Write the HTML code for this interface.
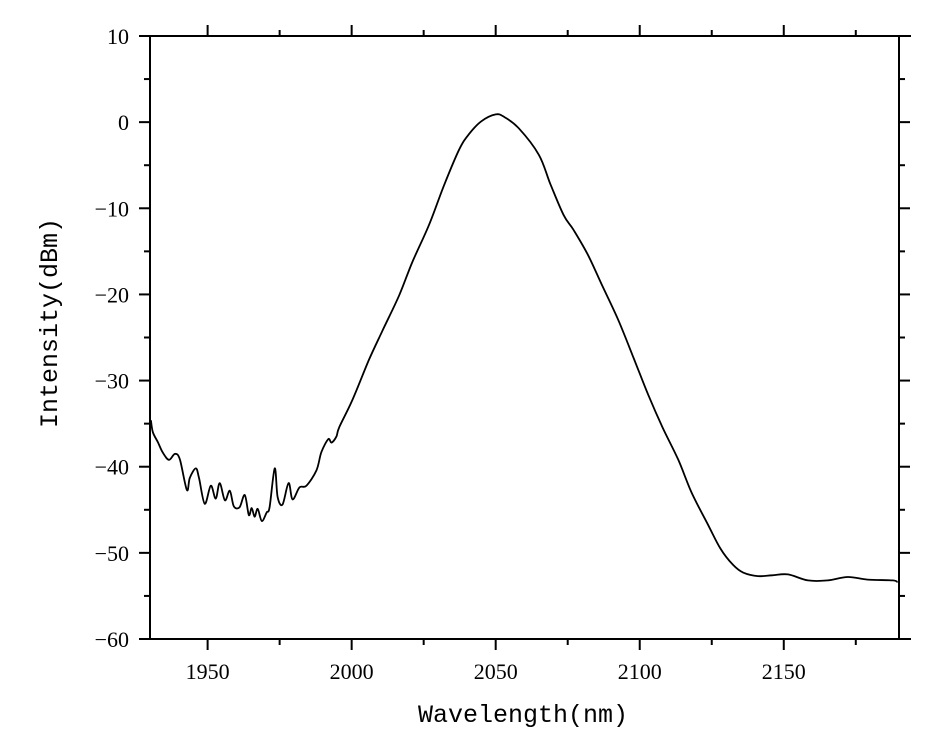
<!DOCTYPE html>
<html><head><meta charset="utf-8"><style>
html,body{margin:0;padding:0;background:#fff;}
svg{display:block;}
.t{font-family:"Liberation Serif",serif;font-size:22px;fill:#000;}
.ax{font-family:"Liberation Mono","Noto Sans CJK SC",monospace;font-size:25px;fill:#000;}
</style></head><body>
<svg id="chart" width="952" height="740" xmlns="http://www.w3.org/2000/svg">
<g id="axes"></g>
<text class="ax" x="523" y="722" text-anchor="middle">Wavelength(nm)</text>
<text class="ax" transform="translate(57,323) rotate(-90)" text-anchor="middle">Intensity(dBm)</text>
</svg>
<script>
const wavelengths=[1930.3,1931,1932.8,1934.5,1936.6,1938.7,1940.4,1942.8,1943.8,1945.9,1947,1949,1951.1,1952.8,1954.2,1956,1957.7,1959.1,1961.1,1962.9,1964.3,1965.3,1966.3,1967.4,1968.8,1970.5,1971.5,1973.3,1974.3,1976,1978.1,1979.5,1981.9,1984.3,1987.8,1989.5,1991.9,1993,1994.7,1995.7,2000.2,2006,2011,2016.5,2021,2026.9,2032,2037.3,2040.7,2045,2050,2053,2058,2065,2069,2073.6,2077,2082,2087,2092.6,2098,2103,2108,2113.4,2118,2123.8,2128,2132.4,2136,2141,2146,2151.5,2158.4,2165.3,2172.2,2179.1,2187.8,2189.5];
const intensities=[-34.6,-36,-37.2,-38.4,-39.2,-38.5,-39.2,-42.7,-41.3,-40.2,-41.3,-44.3,-42.2,-43.7,-41.9,-43.9,-42.8,-44.6,-44.7,-43.3,-45.6,-44.8,-45.8,-44.9,-46.3,-45.3,-44.7,-40.2,-43.5,-44.4,-41.9,-43.8,-42.4,-42.2,-40.4,-38.3,-36.8,-37.2,-36.5,-35.4,-32.3,-27.6,-24,-20.1,-16.3,-11.9,-7.4,-3.2,-1.4,0.1,0.9,0.6,-0.7,-3.8,-7.2,-10.8,-12.5,-15.4,-19,-23,-27.5,-31.7,-35.5,-39.2,-43,-46.8,-49.5,-51.4,-52.3,-52.7,-52.6,-52.5,-53.2,-53.2,-52.8,-53.1,-53.2,-53.4];
const xTicks=[1950,2000,2050,2100,2150];
const xMinor=[1975,2025,2075,2125,2175];
const yTicks=[10,0,-10,-20,-30,-40,-50,-60];
const yMinor=[5,-5,-15,-25,-35,-45,-55];
const L=150,R=899,T=36,B=639,xmin=1930,xmax=2190,ymin=-60,ymax=10;
const sx=v=>L+(v-xmin)/(xmax-xmin)*(R-L);
const sy=v=>B-(v-ymin)/(ymax-ymin)*(B-T);
const NS="http://www.w3.org/2000/svg";
const g=document.getElementById('axes');
function ln(x1,y1,x2,y2,w,name){const e=document.createElementNS(NS,'line');e.setAttribute('x1',x1);e.setAttribute('y1',y1);e.setAttribute('x2',x2);e.setAttribute('y2',y2);e.setAttribute('stroke','#000');e.setAttribute('stroke-width',w);


g.appendChild(e);}
ln(L,T-1,L,B+1,2,'left-axis');ln(L-1,B,R+12,B,2,'bottom-axis');ln(L-1,T,R+12,T,2,'top-axis');ln(R,T-1,R,B+1,2,'right-axis');
xTicks.forEach(v=>{const x=sx(v);ln(x,B,x,B+11,2,'x-tick');ln(x,T,x,T-11,2,'x-tick-top');
const t=document.createElementNS(NS,'text');t.setAttribute('class','t');t.setAttribute('x',x);t.setAttribute('y',B+40);t.setAttribute('text-anchor','middle');t.textContent=v;


g.appendChild(t);});
xMinor.forEach(v=>{const x=sx(v);ln(x,B,x,B+6,2,'x-minor-tick');ln(x,T,x,T-6,2,'x-minor-tick-top');});
yTicks.forEach(v=>{const y=sy(v);ln(L,y,L-11,y,2,'y-tick');ln(R,y,R+11,y,2,'y-tick-right');
const t=document.createElementNS(NS,'text');t.setAttribute('class','t');t.setAttribute('x',L-21);t.setAttribute('y',y+8);t.setAttribute('text-anchor','end');t.textContent=v<0?'\u2212'+(-v):v;


g.appendChild(t);});
yMinor.forEach(v=>{const y=sy(v);ln(L,y,L-6,y,2,'y-minor-tick');ln(R,y,R+6,y,2,'y-minor-tick-right');});
const pts=wavelengths.map((w,i)=>[sx(w),sy(intensities[i])]);
let d='M'+pts[0][0].toFixed(1)+' '+pts[0][1].toFixed(1);
for(let i=0;i<pts.length-1;i++){const p0=pts[Math.max(0,i-1)],p1=pts[i],p2=pts[i+1],p3=pts[Math.min(pts.length-1,i+2)];
const c1=[p1[0]+(p2[0]-p0[0])/6,p1[1]+(p2[1]-p0[1])/6],c2=[p2[0]-(p3[0]-p1[0])/6,p2[1]-(p3[1]-p1[1])/6];
d+=' C'+c1.map(v=>v.toFixed(1)).join(' ')+' '+c2.map(v=>v.toFixed(1)).join(' ')+' '+p2.map(v=>v.toFixed(1)).join(' ');}
const p=document.createElementNS(NS,'path');
p.setAttribute('d',d);
p.setAttribute('fill','none');p.setAttribute('stroke','#000');p.setAttribute('stroke-width','1.8');p.setAttribute('stroke-linejoin','round');


g.appendChild(p);
</script>
</body></html>
